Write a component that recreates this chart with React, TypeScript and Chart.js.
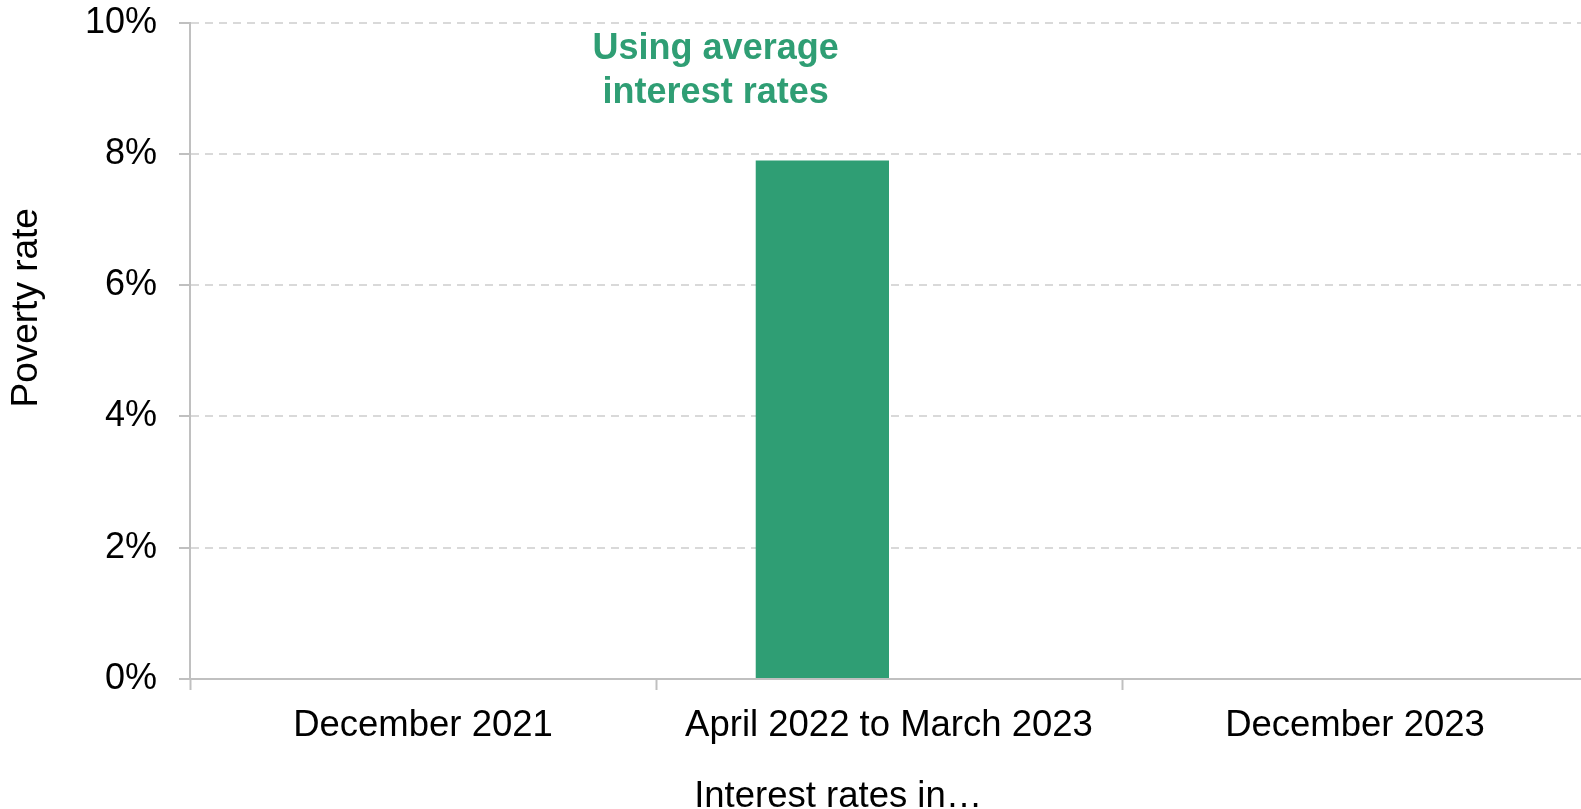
import React, { useEffect, useRef } from "react";
import { Chart, registerables } from "chart.js";

Chart.register(...registerables);

// ---- data ----
const categories = ["December 2021", "April 2022 to March 2023", "December 2023"];
const averageRateSeries = [null, 7.9, null];
const secondSeries = [null, null, null];
const yTickValues = [0, 2, 4, 6, 8, 10];
const annotationLines = ["Using average", "interest rates"];
const xTitle = "Interest rates in…";
const yTitle = "Poverty rate";

const GREEN = "#2f9e74";
const FONT = "'Liberation Sans', Arial, Helvetica, sans-serif";
const AXIS_GREY = "#c0c0c0";
const GRID_GREY = "#d9d9d9";
const SHIFT = 21;

const textPlugin = {
  id: "customText",
  afterDraw(chart: any) {
    const { ctx, scales } = chart;
    const x = scales.x;
    const y = scales.y;
    const p0 = x.getPixelForValue(0);
    const p1 = x.getPixelForValue(1);
    const step = p1 - p0;
    ctx.save();
    // annotation
    ctx.font = `bold 36px ${FONT}`;
    ctx.fillStyle = GREEN;
    ctx.textAlign = "center";
    ctx.textBaseline = "alphabetic";
    const ax = p0 + step * 0.628;
    ctx.fillText(annotationLines[0], ax, y.getPixelForValue(9.44));
    ctx.fillText(annotationLines[1], ax, y.getPixelForValue(8.77));
    // x title
    ctx.font = `36.5px ${FONT}`;
    ctx.fillStyle = "#000";
    ctx.fillText(xTitle, p0 + step * 0.891, y.bottom + 128);
    // y title
    ctx.translate(37, (y.top + y.bottom) / 2 - 43);
    ctx.rotate(-Math.PI / 2);
    ctx.font = `37px ${FONT}`;
    ctx.fillText(yTitle, 0, 0);
    ctx.restore();
  },
};

export default function App() {
  const canvasRef = useRef<HTMLCanvasElement | null>(null);

  useEffect(() => {
    document.body.style.margin = "0";
    const canvas = canvasRef.current;
    if (!canvas) return;
    const chart = new Chart(canvas, {
      type: "bar",
      data: {
        labels: categories,
        datasets: [
          {
            label: "Using average interest rates",
            data: averageRateSeries as any,
            backgroundColor: GREEN,
            borderWidth: 0,
          },
          {
            label: "Second series",
            data: secondSeries as any,
            backgroundColor: "#1f4e79",
            borderWidth: 0,
          },
        ],
      },
      options: {
        animation: false,
        responsive: true,
        maintainAspectRatio: false,
        layout: { padding: { top: 0, left: 0, right: 0, bottom: 0 } },
        datasets: {
          bar: { categoryPercentage: 0.572, barPercentage: 1 },
        } as any,
        plugins: {
          legend: { display: false },
          tooltip: { enabled: false },
          title: { display: false },
        },
        scales: {
          x: {
            type: "category",
            offset: true,
            grid: {
              display: true,
              offset: true,
              drawOnChartArea: false,
              drawTicks: true,
              tickLength: 11,
              tickColor: AXIS_GREY,
              tickWidth: 2,
            } as any,
            border: { display: true, color: AXIS_GREY, width: 2 },
            ticks: {
              color: "#000",
              font: { family: FONT, size: 36.5 },
              padding: 14,
              maxRotation: 0,
              autoSkip: false,
            },
            afterFit: (scale: any) => {
              scale.height = 130;
            },
          },
          y: {
            type: "linear",
            min: 0,
            max: 10,
            afterBuildTicks: (scale: any) => {
              scale.ticks = yTickValues.map((v) => ({ value: v }));
            },
            grid: {
              color: GRID_GREY,
              lineWidth: 2,
              drawTicks: true,
              tickLength: 11,
              tickColor: AXIS_GREY,
              tickWidth: 2,
              tickBorderDash: [],
            } as any,
            border: { display: true, color: AXIS_GREY, width: 2, dash: [8, 6] } as any,
            ticks: {
              color: "#000",
              font: { family: FONT, size: 36 },
              padding: 22,
              callback: (v: any) => `${v}%`,
            },
            afterFit: (scale: any) => {
              scale.width = 190;
            },
          },
        },
      },
      plugins: [textPlugin],
    });
    return () => chart.destroy();
  }, []);

  return (
    <div style={{ width: 1581, height: 809, overflow: "hidden", position: "relative" }}>
      <div style={{ width: 1588, height: 809 + SHIFT, marginTop: -SHIFT, position: "relative" }}>
        <canvas ref={canvasRef} />
      </div>
    </div>
  );
}
